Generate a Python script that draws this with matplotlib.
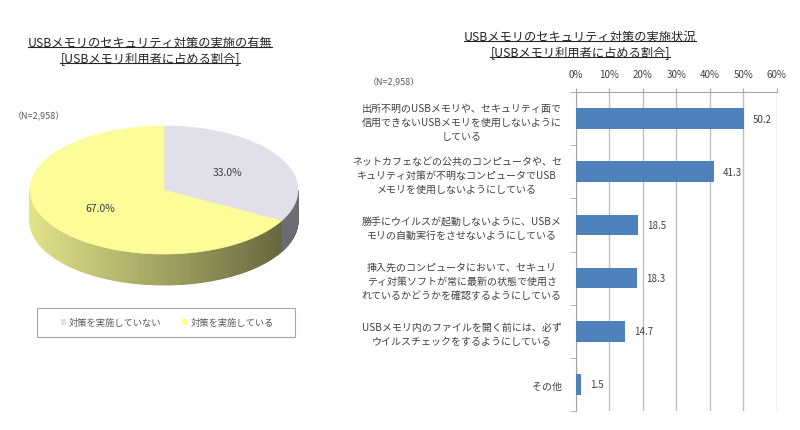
import numpy as np
import matplotlib
matplotlib.use('Agg')
import matplotlib.pyplot as plt
from matplotlib.patches import Polygon, Rectangle, Patch
from matplotlib.lines import Line2D

plt.rcParams['font.family'] = ['Noto Sans CJK JP', 'DejaVu Sans']

# data
pie_labels = ['対策を実施していない', '対策を実施している']
pie_values = [33.0, 67.0]
pie_colors = ['#E1DFE9', '#FCFC98']

bar_labels = [
    '出所不明のUSBメモリや、セキュリティ面で\n信用できないUSBメモリを使用しないように\nしている',
    'ネットカフェなどの公共のコンピュータや、セ\nキュリティ対策が不明なコンピュータでUSB\nメモリを使用しないようにしている',
    '勝手にウイルスが起動しないように、USBメ\nモリの自動実行をさせないようにしている',
    '挿入先のコンピュータにおいて、セキュリ\nティ対策ソフトが常に最新の状態で使用さ\nれているかどうかを確認するようにしている',
    'USBメモリ内のファイルを開く前には、必ず\nウイルスチェックをするようにしている',
    'その他',
]
bar_values = [50.2, 41.3, 18.5, 18.3, 14.7, 1.5]
x_ticks = [0, 10, 20, 30, 40, 50, 60]

W, H = 800, 431
fig = plt.figure(figsize=(W / 100, H / 100), dpi=100)
fig.patch.set_facecolor('white')

# overlay axes in pixel coords for the 3d pie
ov = fig.add_axes([0, 0, 1, 1])
ov.set_xlim(0, W)
ov.set_ylim(H, 0)
ov.axis('off')

cx, cy, a, b, depth = 164, 191, 134, 64, 31


def pt(deg):
    t = np.radians(deg)
    return cx + a * np.cos(t), cy - b * np.sin(t)


# slice angles, clockwise from 12 o'clock
fracs = np.array(pie_values) / sum(pie_values)
starts = 90 - 360 * np.concatenate([[0], np.cumsum(fracs)[:-1]])
ends = starts - 360 * fracs

# side walls (front half only: angles 180..360)
for s, e, col in zip(starts, ends, pie_colors):
    angs = np.mod(np.linspace(e, s, 400), 360)
    base = np.array(matplotlib.colors.to_rgb(col))
    for i in range(len(angs) - 1):
        a0, a1 = angs[i], angs[i + 1]
        if abs(a1 - a0) > 10:
            continue
        if not (180 <= a0 <= 360 and 180 <= a1 <= 360):
            continue
        x0, y0 = pt(a0)
        x1, y1 = pt(a1)
        xm = (x0 + x1) / 2
        shade = 0.9 - 0.52 * (xm - (cx - a)) / (2 * a)
        if col == pie_colors[0]:
            shade = 0.48
        c = np.clip(base * shade, 0, 1)
        ov.add_patch(Polygon([(x0, y0), (x1, y1), (x1, y1 + depth), (x0, y0 + depth)],
                             closed=True, facecolor=c, edgecolor=c, lw=0.6))

# top surface
for s, e, col in zip(starts, ends, pie_colors):
    angs = np.linspace(s, e, 200)
    pts = [(cx, cy)] + [pt(t) for t in angs]
    ov.add_patch(Polygon(pts, closed=True, facecolor=col, edgecolor=col, lw=0.5))

# slice labels
for s, e, v in zip(starts, ends, pie_values):
    t = np.radians((s + e) / 2)
    lx = cx + 0.55 * a * np.cos(t)
    ly = cy - 0.55 * b * np.sin(t)
    ov.text(lx, ly, f'{v:.1f}%', ha='center', va='center', fontsize=7.5, color='#404040')

ov.text(13, 117, '（N=2,958）', ha='left', va='center', fontsize=6.5, color='#595959')

# legend box
ov.add_patch(Rectangle((37, 309), 258, 29, facecolor='white', edgecolor='#A6A6A6', lw=0.8))
handles = [Patch(facecolor=c, edgecolor='none') for c in pie_colors]
ov.legend(handles, pie_labels, loc='center', bbox_to_anchor=(167 / W, 1 - 323.5 / H),
          bbox_transform=fig.transFigure, ncol=2, frameon=False, fontsize=6.7,
          handlelength=0.6, handleheight=0.6, handletextpad=0.3, columnspacing=2.2,
          labelcolor='#595959')

# bar chart
ax = fig.add_axes([575.7 / W, 1 - 412 / H, 201 / W, 319 / H])
ypos = np.arange(len(bar_values))
ax.barh(ypos, bar_values, height=0.39, color='#4F81BD', zorder=3)
for yy, v in zip(ypos, bar_values):
    ax.annotate(f'{v}', (v, yy), xytext=(6.5, 0), textcoords='offset points',
                ha='left', va='center', fontsize=7, color='#404040')
ax.set_xlim(0, 60)
ax.set_ylim(len(bar_values) - 0.5, -0.5)
ax.xaxis.tick_top()
ax.set_xticks(x_ticks)
ax.set_xticklabels([f'{t}%' for t in x_ticks], fontsize=7, color='#404040')
ax.tick_params(axis='x', length=3, color='#A6A6A6', pad=6)
ax.grid(axis='x', color='#BFBFBF', lw=1, zorder=0)
ax.set_yticks(ypos)
ax.set_yticklabels(bar_labels, fontsize=7.2, color='#404040', multialignment='center',
                   linespacing=1.5)
ax.tick_params(axis='y', which='major', length=0, pad=10)
ax.set_yticks(np.arange(-0.5, len(bar_values), 1), minor=True)
ax.tick_params(axis='y', which='minor', length=4, color='#A6A6A6')
for sp in ['right', 'bottom']:
    ax.spines[sp].set_visible(False)
for sp in ['left', 'top']:
    ax.spines[sp].set_color('#A6A6A6')
ax.set_facecolor('none')

fig.text(368 / W, 1 - 83 / H, '（N=2,958）', ha='left', va='center', fontsize=6.5, color='#595959')

# titles (underlined)
titles = [
    ('USBメモリのセキュリティ対策の実施の有無', 150, 43),
    ('[USBメモリ利用者に占める割合]', 150, 59),
    ('USBメモリのセキュリティ対策の実施状況', 580, 37),
    ('[USBメモリ利用者に占める割合]', 580, 53),
]
tobjs = []
for txt, x, y in titles:
    tobjs.append(fig.text(x / W, 1 - y / H, txt, ha='center', va='center',
                          fontsize=8.8, color='#262626'))

fig.canvas.draw()
r = fig.canvas.get_renderer()
for t in tobjs:
    bb = t.get_window_extent(r)
    yl = bb.y0 + 1.5
    fig.add_artist(Line2D([bb.x0 / W, bb.x1 / W], [yl / H, yl / H],
                          transform=fig.transFigure, color='#262626', lw=0.8))

fig.savefig('out.png', dpi=100)
